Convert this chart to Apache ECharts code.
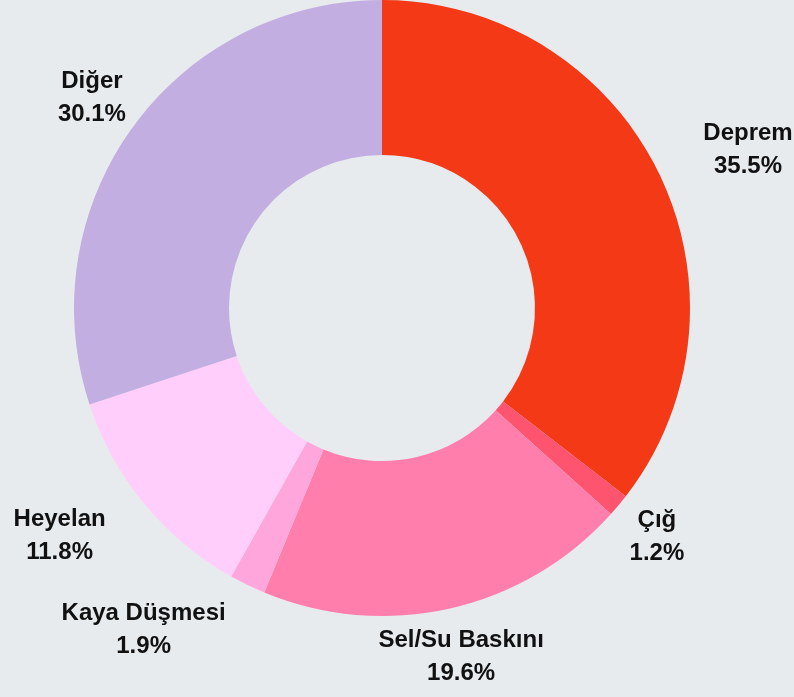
<!DOCTYPE html>
<html>
<head>
<meta charset="utf-8">
<script src="https://cdn.jsdelivr.net/npm/echarts@6/dist/echarts.min.js"></script>
<style>
html, body { margin: 0; padding: 0; background: #e8ebee; }
#main { width: 794px; height: 697px; }
</style>
</head>
<body>
<div id="main"></div>
<script>
// data
var categories = ['Deprem', 'Çığ', 'Sel/Su Baskını', 'Kaya Düşmesi', 'Heyelan', 'Diğer'];
var shares = [35.5, 1.2, 19.6, 1.9, 11.8, 30.1];

var colors = ['#f33916', '#ff5470', '#ff7eab', '#ffa7dc', '#ffcefb', '#c3aee1'];
// where each label block sits against the end of the (hidden) label line
var labelSide = ['left', 'center', 'center', 'right', 'right', 'center'];

var myChart = echarts.init(document.getElementById('main'));

var pieData = categories.map(function (name, i) {
    return { name: name, value: shares[i] };
});

myChart.setOption({
    backgroundColor: '#e8ebee',
    color: colors,
    animation: false,
    series: [
        {
            type: 'pie',
            center: [382, 308],
            radius: [153, 308],
            startAngle: 90,
            clockwise: true,
            avoidLabelOverlap: false,
            itemStyle: { borderWidth: 0 },
            label: {
                show: true,
                position: 'outside',
                formatter: '{b}\n{c}%',
                color: '#111',
                fontFamily: 'Liberation Sans, Arial, sans-serif',
                fontWeight: 'bold',
                fontSize: 24,
                lineHeight: 33,
                distanceToLabelLine: 0
            },
            labelLine: { show: false, length: 50, length2: 0 },
            emphasis: { disabled: true },
            labelLayout: function (params) {
                var r = params.labelRect;
                var i = params.dataIndex;
                // the library right-aligns labels left of the centre, left-aligns the others
                var onLeft = (r.x + r.width / 2) < 382;
                var anchor = onLeft ? r.x + r.width : r.x;
                var cxText = anchor;
                if (labelSide[i] === 'left') cxText = anchor + r.width / 2;
                if (labelSide[i] === 'right') cxText = anchor - r.width / 2;
                return {
                    x: cxText,
                    y: r.y + r.height / 2,
                    align: 'center',
                    verticalAlign: 'middle'
                };
            },
            data: pieData
        }
    ]
});
</script>
</body>
</html>
